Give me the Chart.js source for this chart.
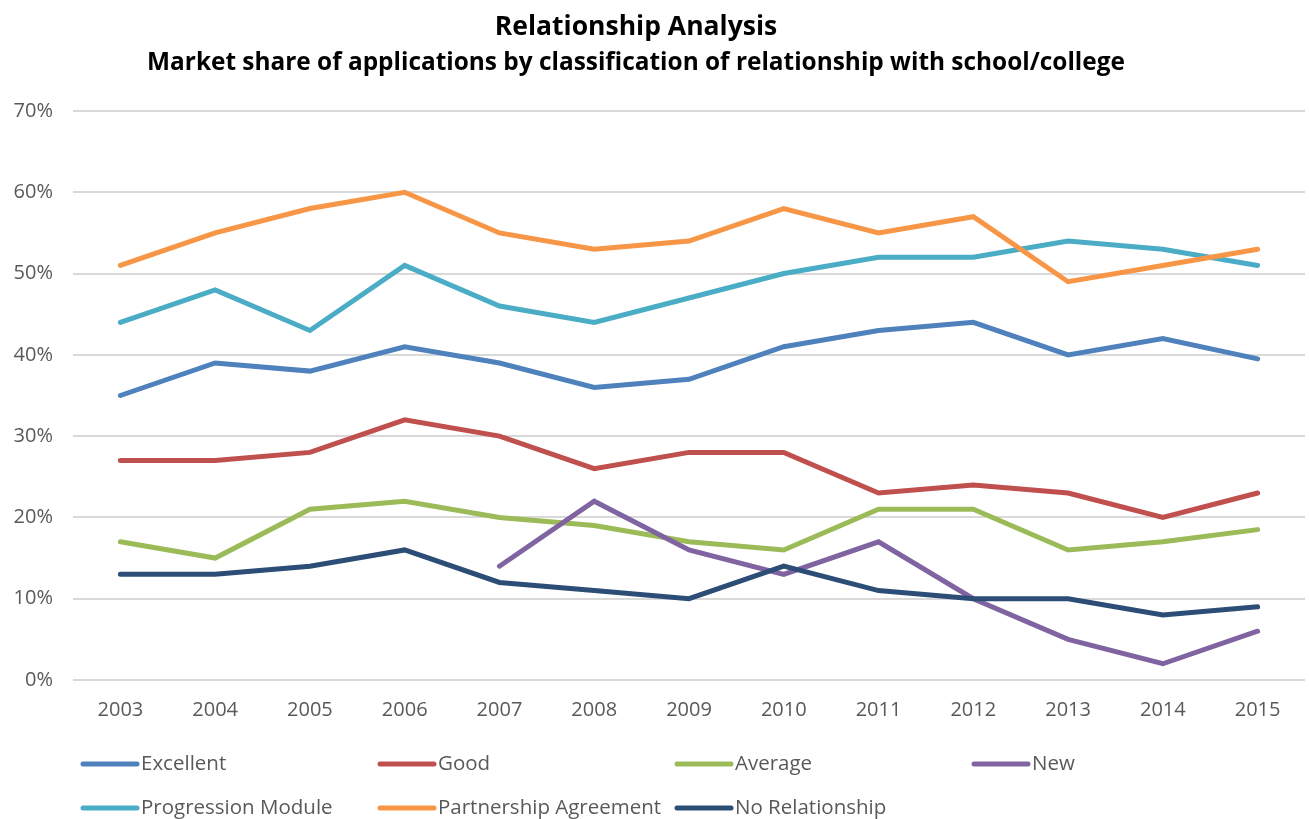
<!DOCTYPE html>
<html>
<head>
<meta charset="utf-8">
<title>Relationship Analysis</title>
<script src="https://cdn.jsdelivr.net/npm/chart.js@4/dist/chart.umd.min.js"></script>
<style>
  html, body { margin: 0; padding: 0; background: #fff; }
  #wrap { position: relative; width: 1309px; height: 819px; }
</style>
</head>
<body>
<div id="wrap"><canvas id="myChart" width="1309" height="819"></canvas></div>
<script>
var years = ["2003", "2004", "2005", "2006", "2007", "2008", "2009", "2010", "2011", "2012", "2013", "2014", "2015"];

var excellent      = [35, 39, 38, 41, 39, 36, 37, 41, 43, 44, 40, 42, 39.5];
var good           = [27, 27, 28, 32, 30, 26, 28, 28, 23, 24, 23, 20, 23];
var average        = [17, 15, 21, 22, 20, 19, 17, 16, 21, 21, 16, 17, 18.5];
var newRel         = [null, null, null, null, 14, 22, 16, 13, 17, 10, 5, 2, 6];
var progression    = [44, 48, 43, 51, 46, 44, 47, 50, 52, 52, 54, 53, 51];
var partnership    = [51, 55, 58, 60, 55, 53, 54, 58, 55, 57, 49, 51, 53];
var noRelationship = [13, 13, 14, 16, 12, 11, 10, 14, 11, 10, 10, 8, 9];

var seriesNames = ["Excellent", "Good", "Average", "New", "Progression Module", "Partnership Agreement", "No Relationship"];
var yTicks = [0, 10, 20, 30, 40, 50, 60, 70];

var titleText = "Relationship Analysis";
var subtitleText = "Market share of applications by classification of relationship with school/college";

var FONT = "'Open Sans', sans-serif";
var TXT = "#595959";

var colors = ["#4F81BD", "#C0504D", "#9BBB59", "#8064A2", "#4BACC6", "#F79646", "#2C4D75"];
var values = [excellent, good, average, newRel, progression, partnership, noRelationship];

var datasets = values.map(function(v, i){
    return {
        label: seriesNames[i],
        data: v,
        borderColor: colors[i],
        backgroundColor: colors[i],
        borderWidth: 5,
        borderCapStyle: "round",
        borderJoinStyle: "miter",
        pointRadius: 0,
        pointHoverRadius: 0,
        tension: 0,
        fill: false,
        spanGaps: false,
        order: values.length - i   // later series drawn on top, like Excel
    };
});

/* titles and the column legend -------------------------------- */
var decor = {
    id: "decor",
    afterDraw: function(chart){
        var ctx = chart.ctx;
        ctx.save();
        ctx.fillStyle = "#000";
        ctx.textAlign = "center";
        ctx.textBaseline = "middle";
        ctx.font = "bold 26.5px " + FONT;
        ctx.fillText(titleText, 636, 27);
        ctx.font = "bold 24.4px " + FONT;
        ctx.fillText(subtitleText, 636, 63);

        ctx.font = "20.5px " + FONT;
        ctx.textAlign = "left";
        chart.data.datasets.forEach(function(ds, i){
            var col = i % 4, row = Math.floor(i / 4);
            var x = 83 + col * 297;
            var y = 764 + row * 44;
            ctx.strokeStyle = ds.borderColor;
            ctx.lineWidth = 5;
            ctx.lineCap = "round";
            ctx.beginPath();
            ctx.moveTo(x, y);
            ctx.lineTo(x + 54, y);
            ctx.stroke();
            ctx.fillStyle = TXT;
            ctx.fillText(ds.label, x + 58, y);
        });
        ctx.restore();
    }
};

var ctx = document.getElementById("myChart").getContext("2d");
var myChart = new Chart(ctx, {
    type: "line",
    data: { labels: years, datasets: datasets },
    options: {
        responsive: false,
        animation: false,
        layout: { padding: { top: 111, right: 4, bottom: 89, left: 0 } },
        plugins: {
            legend: { display: false },
            title: { display: false },
            tooltip: { enabled: false }
        },
        scales: {
            x: {
                offset: true,
                grid: { display: false, drawTicks: false },
                border: { display: false },
                ticks: { color: TXT, font: { family: FONT, size: 20 }, padding: 18, maxRotation: 0 },
                afterFit: function(s){ s.height = 50; }
            },
            y: {
                min: 0,
                max: 70,
                afterBuildTicks: function(s){ s.ticks = yTicks.map(function(v){ return { value: v }; }); },
                grid: { color: "#D9D9D9", lineWidth: 2, drawTicks: false },
                border: { display: false },
                ticks: {
                    color: TXT,
                    font: { family: FONT, size: 20 },
                    padding: 20,
                    callback: function(v){ return v + "%"; }
                },
                afterFit: function(s){ s.width = 73; }
            }
        }
    },
    plugins: [decor]
});
</script>
</body>
</html>
